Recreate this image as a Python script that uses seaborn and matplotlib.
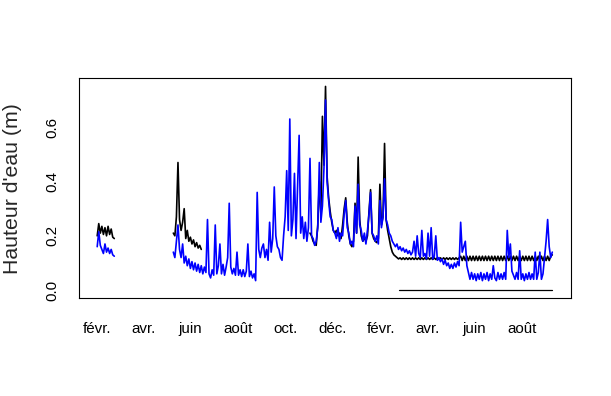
"""
Hauteur d'eau : deux capteurs (noir / bleu), fevr. 2019 - sept. 2020
values read off the reference chart, one value every 2 days
"""
import numpy as np
import pandas as pd
import matplotlib
matplotlib.use("Agg")
import matplotlib.pyplot as plt
import matplotlib.dates as mdates
import seaborn as sns

sns.set_style(style='white')
plt.rcParams['font.family'] = ['Liberation Sans', 'DejaVu Sans']

# --- data (m), step = 2 days ---
feb_start = "2019-02-01"
black_feb = [0.20, 0.245, 0.21, 0.235, 0.205, 0.23, 0.20, 0.235, 0.205, 0.225, 0.195, 0.19]
blue_feb = [0.16, 0.215, 0.165, 0.15, 0.135, 0.17, 0.14, 0.155, 0.135, 0.15, 0.13, 0.125]

spring_start = "2019-05-10"
black_spring = [0.21, 0.20, 0.27, 0.47, 0.26, 0.22, 0.25, 0.30, 0.19, 0.22,
                0.18, 0.195, 0.17, 0.185, 0.16, 0.175, 0.155, 0.165, 0.15]

# blue runs without a gap from spring_start to the end
blue_main = [
    0.14, 0.12, 0.18, 0.24, 0.15, 0.12, 0.17, 0.10, 0.125, 0.09,
    0.115, 0.08, 0.105, 0.075, 0.10, 0.07, 0.095, 0.065, 0.09, 0.06,
    0.085, 0.065, 0.26, 0.06, 0.045, 0.075, 0.055, 0.24, 0.06, 0.09,
    0.17, 0.06, 0.095, 0.055, 0.085, 0.12, 0.32, 0.085, 0.06, 0.08,
    0.055, 0.14, 0.055, 0.075, 0.05, 0.075, 0.05, 0.07, 0.17, 0.05,
    0.07, 0.045, 0.06, 0.035, 0.36, 0.15, 0.12, 0.155, 0.17, 0.12,
    0.15, 0.11, 0.25, 0.14, 0.19, 0.38, 0.20, 0.16, 0.15, 0.12,
    0.11, 0.20, 0.27, 0.44, 0.22, 0.63, 0.20, 0.26, 0.43, 0.19,
    0.38, 0.57, 0.21, 0.27, 0.19, 0.25, 0.18, 0.23, 0.485, 0.20,
    0.19, 0.165, 0.18, 0.23, 0.47, 0.25, 0.31, 0.45, 0.70, 0.40,
    0.33, 0.27, 0.26, 0.22, 0.21, 0.19, 0.23, 0.18, 0.21, 0.20,
    0.28, 0.33, 0.23, 0.21, 0.17, 0.18, 0.16, 0.31, 0.21, 0.39,
    0.24, 0.22, 0.18, 0.21, 0.17, 0.22, 0.28, 0.36, 0.21, 0.20,
    0.18, 0.20, 0.17, 0.33, 0.23, 0.27, 0.41, 0.26, 0.24, 0.21,
    0.20, 0.18, 0.17, 0.16, 0.17, 0.15, 0.16, 0.145, 0.155, 0.14,
    0.15, 0.135, 0.145, 0.13, 0.14, 0.18, 0.125, 0.20, 0.135, 0.12,
    0.22, 0.125, 0.135, 0.115, 0.21, 0.125, 0.23, 0.115, 0.125, 0.20,
    0.11, 0.12, 0.105, 0.115, 0.095, 0.11, 0.09, 0.10, 0.08, 0.095,
    0.08, 0.10, 0.085, 0.105, 0.09, 0.25, 0.14, 0.16, 0.18, 0.09,
    0.065, 0.04, 0.065, 0.04, 0.06, 0.035, 0.06, 0.04, 0.065, 0.035,
    0.06, 0.04, 0.065, 0.035, 0.06, 0.04, 0.09, 0.045, 0.035, 0.065,
    0.04, 0.06, 0.04, 0.065, 0.04, 0.22, 0.12, 0.17, 0.07, 0.055,
    0.04, 0.065, 0.04, 0.145, 0.04, 0.06, 0.035, 0.06, 0.04, 0.065,
    0.04, 0.06, 0.04, 0.14, 0.04, 0.065, 0.14, 0.04, 0.06, 0.12,
    0.18, 0.26, 0.16, 0.12, 0.14,
]

black_main_start = "2019-11-02"
black_main = [
    0.21, 0.20,
    0.18, 0.17, 0.165, 0.24, 0.40, 0.28, 0.64, 0.46, 0.75, 0.42,
    0.34, 0.29, 0.25, 0.22, 0.21, 0.22, 0.20, 0.21, 0.19, 0.24,
    0.30, 0.34, 0.25, 0.20, 0.17, 0.16, 0.18, 0.32, 0.21, 0.49,
    0.26, 0.20, 0.18, 0.195, 0.18, 0.20, 0.29, 0.37, 0.21, 0.19,
    0.18, 0.175, 0.19, 0.39, 0.24, 0.27, 0.54, 0.26, 0.22, 0.19,
    0.16, 0.14, 0.13, 0.125, 0.12, 0.115, 0.119, 0.113, 0.119, 0.113,
    0.119, 0.113, 0.119, 0.113, 0.119, 0.113, 0.119, 0.113, 0.119, 0.113,
    0.119, 0.113, 0.119, 0.113, 0.119, 0.113, 0.119, 0.113, 0.119, 0.113,
    0.119, 0.113, 0.119, 0.113, 0.119, 0.113, 0.119, 0.113, 0.119, 0.113,
    0.119, 0.113, 0.119, 0.113, 0.119, 0.125, 0.109, 0.125, 0.109, 0.125,
    0.109, 0.125, 0.109, 0.125, 0.109, 0.125, 0.109, 0.125, 0.109, 0.125,
    0.109, 0.125, 0.109, 0.125, 0.109, 0.125, 0.109, 0.125, 0.109, 0.125,
    0.109, 0.125, 0.109, 0.125, 0.109, 0.125, 0.109, 0.125, 0.109, 0.125,
    0.109, 0.125, 0.109, 0.125, 0.109, 0.125, 0.109, 0.125, 0.109, 0.125,
    0.109, 0.125, 0.109, 0.125, 0.109, 0.125, 0.109, 0.125, 0.109, 0.125,
    0.109, 0.125, 0.109, 0.125, 0.13,
]

# third sensor: flat at zero
zero_dates = ["2020-02-24", "2020-09-09"]
zero_vals = [0.0, 0.0]

tick_months = pd.date_range("2019-02-01", "2020-09-01", freq="MS")
month_labels = ["févr.", "", "avr.", "", "juin", "", "août", "", "oct.", "",
                "déc.", "", "févr.", "", "avr.", "", "juin", "", "août", ""]
y_ticks = [0.0, 0.2, 0.4, 0.6]
y_labels = ["0.0", "0.2", "0.4", "0.6"]


def dates_for(start, vals):
    return pd.date_range(start, periods=len(vals), freq="2D")


series = [
    (dates_for(feb_start, black_feb), black_feb, "black", 1.2),
    (dates_for(spring_start, black_spring), black_spring, "black", 1.2),
    (dates_for(black_main_start, black_main), black_main, "black", 1.2),
    (dates_for(feb_start, blue_feb), blue_feb, "blue", 1.2),
    (dates_for(spring_start, blue_main), blue_main, "blue", 1.2),
    (pd.to_datetime(zero_dates), zero_vals, "black", 0.9),
]

fig = plt.figure(figsize=(6.11, 3.96), dpi=100)
ax = fig.add_axes([79 / 611, 97.7 / 396, 491.5 / 611, 220.0 / 396])

for d, v, c, w in series:
    sns.lineplot(x=d, y=v, color=c, lw=w, ax=ax)

# R style 4% padding on both axes
all_x = np.concatenate([mdates.date2num(s[0]) for s in series])
all_y = np.concatenate([np.asarray(s[1], float) for s in series])
xr = all_x.max() - all_x.min()
yr = all_y.max() - all_y.min()
ax.set_xlim(all_x.min() - 0.04 * xr, all_x.max() + 0.04 * xr)
ax.set_ylim(all_y.min() - 0.04 * yr, all_y.max() + 0.04 * yr)

ax.set_xticks(tick_months)
ax.set_xticklabels(month_labels)
ax.set_yticks(y_ticks)
ax.set_yticklabels(y_labels, rotation=90, va="center")
ax.tick_params(axis="both", direction="out", length=6.9, width=0.75,
               labelsize=10.9, color="black", labelcolor="black")
ax.tick_params(axis="x", pad=10)
ax.tick_params(axis="y", pad=7)
ax.set_xlabel("")
ax.set_ylabel("")
for s in ax.spines.values():
    s.set_visible(True)
    s.set_color("black")
    s.set_linewidth(0.8)

fig.text(12.5 / 611, 1 - 188.3 / 396, "Hauteur d'eau (m)", rotation=90,
         ha="center", va="center", fontsize=15.3)

fig.savefig("out.png", dpi=100)
